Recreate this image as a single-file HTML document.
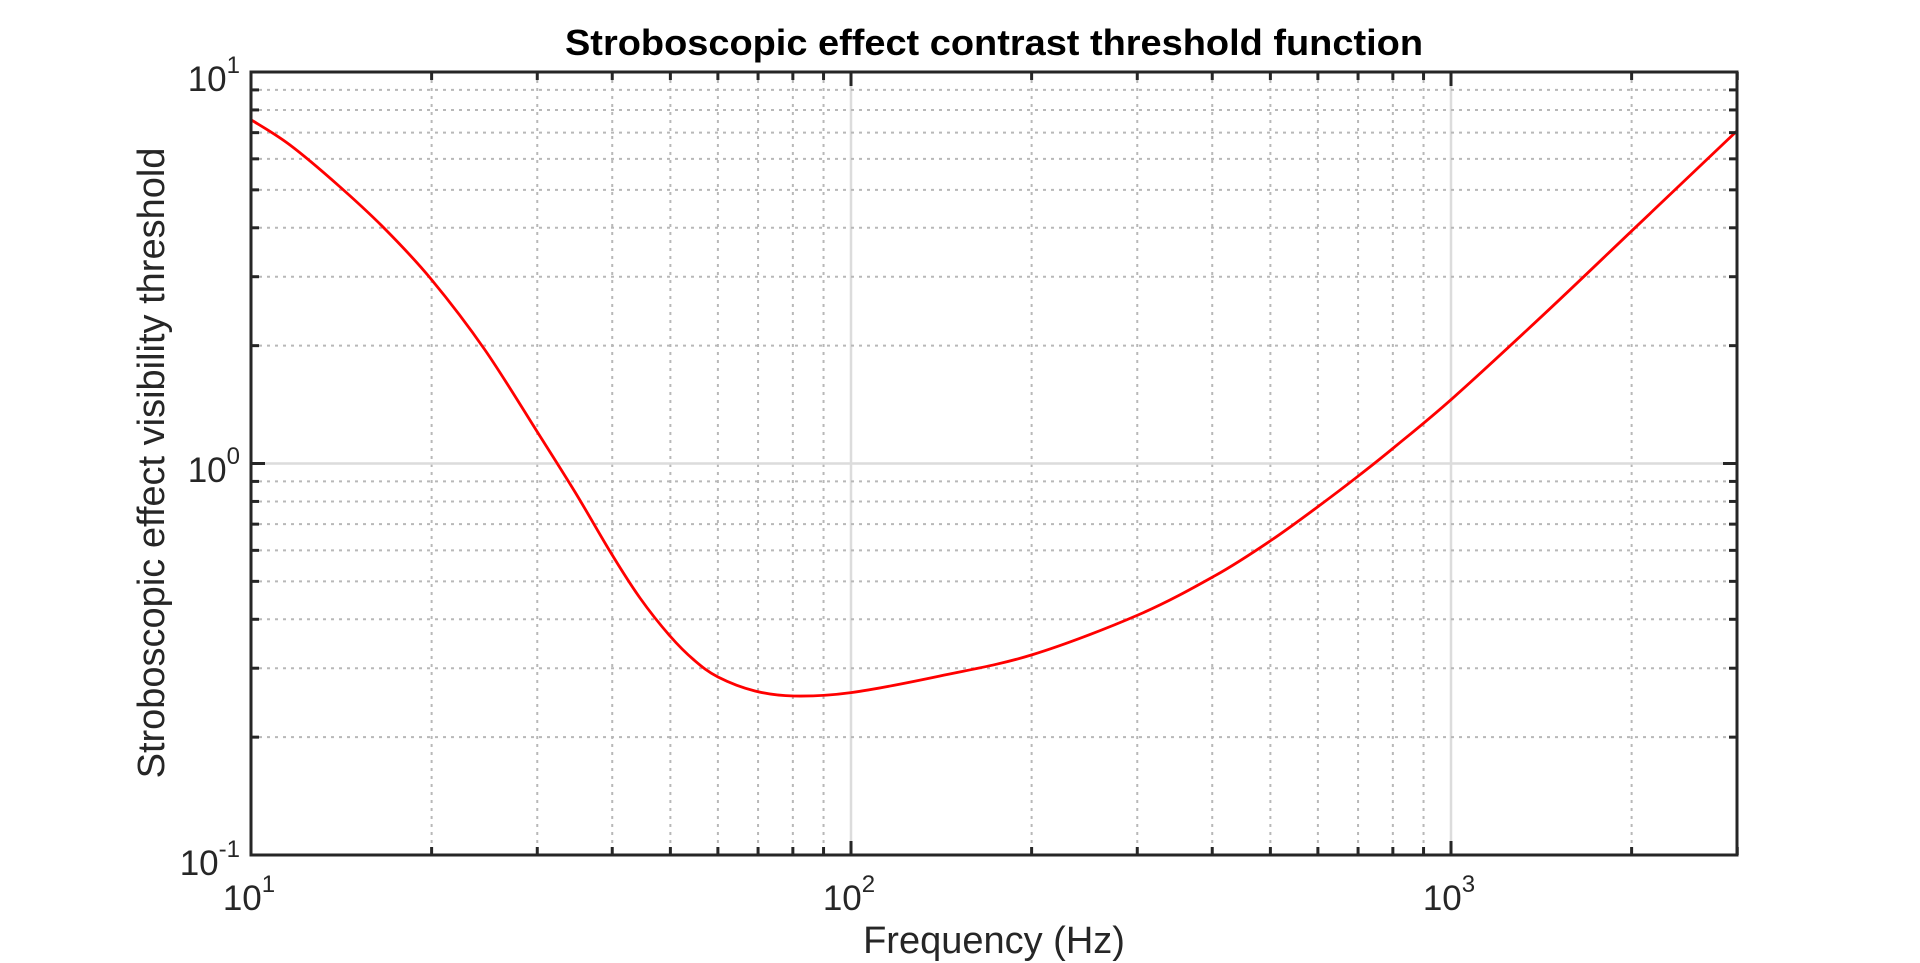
<!DOCTYPE html>
<html><head><meta charset="utf-8"><style>
html,body{margin:0;padding:0;background:#fff;}
svg{display:block;font-family:"Liberation Sans",Arial,sans-serif;}
</style></head><body>
<svg id="s" width="1920" height="963" xmlns="http://www.w3.org/2000/svg">
<rect width="1920" height="963" fill="#fff"/>
<g id="grid"></g>
<path id="curve" fill="none" stroke="#ff0000" stroke-width="2.8"/>
<g id="ticks"></g>
<rect x="251" y="72" width="1486" height="783" fill="none" stroke="#262626" stroke-width="3"/>
<text x="994" y="55" text-anchor="middle" font-size="36" font-weight="bold" fill="#000" textLength="858" lengthAdjust="spacingAndGlyphs">Stroboscopic effect contrast threshold function</text>
<text x="994" y="953" text-anchor="middle" font-size="38" fill="#262626">Frequency (Hz)</text>
<text transform="translate(164,463) rotate(-90)" text-anchor="middle" font-size="38" fill="#262626">Stroboscopic effect visibility threshold</text>
<g id="labels" fill="#262626" font-size="35"></g>
</svg>
<script>
const L=251,R=1737,T=72,B=855;
const xd=600, yd=(B-T)/2;
function X(lf){return L+(lf-1)*xd;}
function Y(ly){return T+(1-ly)*yd;}
const ns="http://www.w3.org/2000/svg";
function el(tag,attrs,parent){const e=document.createElementNS(ns,tag);for(const k in attrs)e.setAttribute(k,attrs[k]);parent.appendChild(e);return e;}
const g=document.getElementById('grid'),tk=document.getElementById('ticks'),lb=document.getElementById('labels');
for(let d=1;d<=3;d++){for(let m=1;m<=9;m++){const f=m*Math.pow(10,d);if(f>3000)break;const x=X(Math.log10(f));
 if(m===1&&d===1)continue;
 if(m===1){el('line',{x1:x,y1:T,x2:x,y2:B,stroke:'#dcdcdc','stroke-width':2.5},g);}
 else{el('line',{x1:x,y1:T,x2:x,y2:B,stroke:'#b8b8b8','stroke-width':2,'stroke-dasharray':'3,5'},g);}
 const tl=m===1?14:8;
 el('line',{x1:x,y1:B,x2:x,y2:B-tl,stroke:'#262626','stroke-width':3},tk);
 el('line',{x1:x,y1:T,x2:x,y2:T+tl,stroke:'#262626','stroke-width':3},tk);
}}
for(let d=-1;d<=0;d++){for(let m=1;m<=9;m++){const y=Y(Math.log10(m*Math.pow(10,d)));
 if(m===1&&d===-1)continue;
 if(m===1){el('line',{x1:L,y1:y,x2:R,y2:y,stroke:'#dcdcdc','stroke-width':2.5},g);}
 else{el('line',{x1:L,y1:y,x2:R,y2:y,stroke:'#b8b8b8','stroke-width':2,'stroke-dasharray':'3,5'},g);}
 const tl=m===1?14:8;
 el('line',{x1:L,y1:y,x2:L+tl,y2:y,stroke:'#262626','stroke-width':3},tk);
 el('line',{x1:R,y1:y,x2:R-tl,y2:y,stroke:'#262626','stroke-width':3},tk);
}}
function lab(x,y,exp,anchor){
 const t=el('text',{x:x,y:y,'text-anchor':anchor},lb);
 t.appendChild(document.createTextNode('10'));
 const s=el('tspan',{dy:-18,'font-size':24},t);s.textContent=exp;
}
[1,2,3].forEach(e=>lab(X(e)-2,910,String(e),'middle'));
lab(240,91,'1','end');lab(240,482,'0','end');lab(240,875,'-1','end');
const P=[[251,119.7],[290,145],[339,186],[385,229],[431,279],[485,350],[538,433],[575,492],[611,553],[640,598],[670,636],[694,660],[718,677],[755,691],[794,696],[851,692.6],[940,676],[1033,654.5],[1138,615],[1215,575.7],[1271,540.4],[1320,505.1],[1360,474.7],[1394,447.5],[1453,397.9],[1545,313.3],[1635,227.8],[1737,130.9]];
let d='M'+P[0][0]+','+P[0][1];
for(let i=0;i<P.length-1;i++){const p0=P[Math.max(0,i-1)],p1=P[i],p2=P[i+1],p3=P[Math.min(P.length-1,i+2)];
 const c1=[p1[0]+(p2[0]-p0[0])/6,p1[1]+(p2[1]-p0[1])/6],c2=[p2[0]-(p3[0]-p1[0])/6,p2[1]-(p3[1]-p1[1])/6];
 d+=` C${c1[0].toFixed(1)},${c1[1].toFixed(1)} ${c2[0].toFixed(1)},${c2[1].toFixed(1)} ${p2[0]},${p2[1]}`;}
document.getElementById('curve').setAttribute('d',d);
</script>
</body></html>
